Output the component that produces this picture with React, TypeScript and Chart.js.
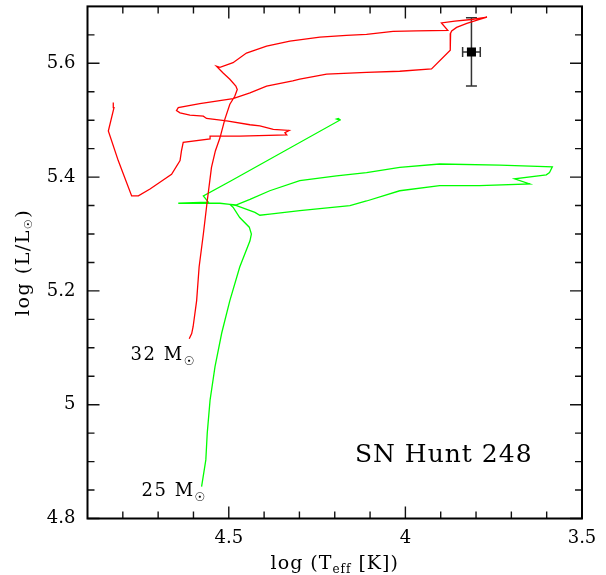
import React, { useEffect, useRef } from 'react';
import { Chart, registerables } from 'chart.js';

Chart.register(...registerables);

// 32 Msun evolutionary track (log Teff, log L/Lsun)
const track32Teff = [
  4.612, 4.605, 4.601, 4.591, 4.584, 4.572, 4.561, 4.549, 4.538, 4.525, 4.511, 4.497, 4.483, 4.476, 4.480,
  4.497, 4.516, 4.535, 4.525, 4.488, 4.450, 4.393, 4.327, 4.242, 4.167, 4.110, 4.035, 3.969, 3.880,
  3.898, 3.860, 3.813, 3.769, 3.790, 3.826, 3.855, 3.869, 3.872, 3.873, 3.926, 4.016, 4.110, 4.223,
  4.299, 4.319, 4.393, 4.440, 4.488, 4.582, 4.643, 4.648, 4.638, 4.610, 4.572, 4.563, 4.506, 4.440,
  4.412, 4.374, 4.329, 4.341, 4.336, 4.469, 4.553, 4.553, 4.629, 4.634, 4.638, 4.662, 4.695, 4.723,
  4.756, 4.775, 4.813, 4.841, 4.825, 4.827,
];
const track32Lum = [
  5.116, 5.125, 5.137, 5.183, 5.242, 5.300, 5.358, 5.417, 5.446, 5.469, 5.502, 5.528, 5.542, 5.554, 5.560,
  5.572, 5.583, 5.595, 5.593, 5.601, 5.618, 5.630, 5.639, 5.646, 5.649, 5.651, 5.656, 5.657, 5.658,
  5.671, 5.674, 5.677, 5.681, 5.677, 5.670, 5.663, 5.657, 5.653, 5.623, 5.590, 5.586, 5.584, 5.581,
  5.572, 5.569, 5.560, 5.548, 5.538, 5.529, 5.522, 5.517, 5.513, 5.509, 5.507, 5.503, 5.499, 5.492,
  5.490, 5.484, 5.482, 5.478, 5.474, 5.472, 5.472, 5.467, 5.461, 5.446, 5.429, 5.405, 5.391, 5.379,
  5.367, 5.367, 5.429, 5.481, 5.522, 5.531,
];

// 25 Msun evolutionary track
const track25Teff = [
  4.577, 4.565, 4.561, 4.553, 4.539, 4.520, 4.497, 4.469, 4.440, 4.436, 4.442, 4.469, 4.488, 4.497,
  4.480, 4.440, 4.384, 4.299, 4.195, 4.110, 4.016, 3.903, 3.733, 3.584, 3.592, 3.601, 3.691, 3.648,
  3.790, 3.903, 4.016, 4.110, 4.157, 4.299, 4.384, 4.412, 4.426, 4.478, 4.497, 4.525, 4.643, 4.558,
  4.572, 4.492, 4.186, 4.195, 4.190, 4.183,
];
const track25Lum = [
  4.856, 4.903, 4.950, 5.008, 5.067, 5.126, 5.183, 5.242, 5.288, 5.300, 5.312, 5.329, 5.347, 5.352,
  5.351, 5.361, 5.376, 5.394, 5.402, 5.408, 5.417, 5.423, 5.421, 5.418, 5.408, 5.404, 5.397, 5.388,
  5.385, 5.385, 5.376, 5.358, 5.350, 5.341, 5.335, 5.333, 5.338, 5.350, 5.352, 5.354, 5.354, 5.356,
  5.367, 5.394, 5.500, 5.502, 5.503, 5.500,
];

// Progenitor of SN Hunt 248
const starTeff = [3.813];
const starLum = [5.62];
const starTeffErr = [0.025];
const starLumErr = [0.06];

// Axes
const xTicks = [4.5, 4, 3.5];
const xMinorTicks = [4.8, 4.7, 4.6, 4.4, 4.3, 4.2, 4.1, 3.9, 3.8, 3.7, 3.6];
const yTicks = [4.8, 5, 5.2, 5.4, 5.6];
const yMinorTicks = [4.85, 4.9, 4.95, 5.05, 5.1, 5.15, 5.25, 5.3, 5.35, 5.45, 5.5, 5.55, 5.65];

// Track labels (left edge / baseline in data coords)
const trackLabelText = ['32', '25'];
const trackLabelTeff = [4.778, 4.747];
const trackLabelLum = [5.078, 4.839];

const objectName = 'SN Hunt 248';
const objectNameTeff = 4.143;
const objectNameLum = 4.9;

const FONT = '"DejaVu Serif", "Liberation Serif", serif';
const SYMFONT = '"DejaVu Sans", "DejaVu Serif", sans-serif';

type Part = { t: string; size: number; dy: number; sym?: boolean };

function drawParts(ctx: CanvasRenderingContext2D, parts: Part[], x: number, y: number, spacing: number, align: 'left' | 'center') {
  ctx.save();
  ctx.textBaseline = 'alphabetic';
  ctx.textAlign = 'left';
  (ctx as any).letterSpacing = spacing + 'px';
  const widths = parts.map((p) => {
    ctx.font = `${p.size}px ${p.sym ? SYMFONT : FONT}`;
    return ctx.measureText(p.t).width;
  });
  const total = widths.reduce((a, b) => a + b, 0);
  let cx = align === 'center' ? x - total / 2 : x;
  parts.forEach((p, i) => {
    ctx.font = `${p.size}px ${p.sym ? SYMFONT : FONT}`;
    ctx.fillText(p.t, cx, y + p.dy);
    cx += widths[i];
  });
  ctx.restore();
}

const hrPlugin = {
  id: 'hrDecor',
  beforeDatasetsDraw(chart: any) {
    const { ctx } = chart;
    const x = chart.scales.x;
    const y = chart.scales.y;
    ctx.save();
    ctx.strokeStyle = '#333';
    ctx.lineWidth = 1.5;
    for (let i = 0; i < starTeff.length; i++) {
      const px = x.getPixelForValue(starTeff[i]);
      const py = y.getPixelForValue(starLum[i]);
      const y1 = y.getPixelForValue(starLum[i] + starLumErr[i]);
      const y2 = y.getPixelForValue(starLum[i] - starLumErr[i]);
      const x1 = x.getPixelForValue(starTeff[i] + starTeffErr[i]);
      const x2 = x.getPixelForValue(starTeff[i] - starTeffErr[i]);
      ctx.beginPath();
      ctx.moveTo(px, y1);
      ctx.lineTo(px, y2);
      ctx.moveTo(px - 5.5, y1);
      ctx.lineTo(px + 5.5, y1);
      ctx.moveTo(px - 5.5, y2);
      ctx.lineTo(px + 5.5, y2);
      ctx.moveTo(x1, py);
      ctx.lineTo(x2, py);
      ctx.moveTo(x1, py - 5);
      ctx.lineTo(x1, py + 5);
      ctx.moveTo(x2, py - 5);
      ctx.lineTo(x2, py + 5);
      ctx.stroke();
    }
    ctx.restore();
  },
  afterDraw(chart: any) {
    const { ctx, chartArea } = chart;
    const { left, right, top, bottom } = chartArea;
    const x = chart.scales.x;
    const y = chart.scales.y;
    ctx.save();
    // ticks (inward, all four sides)
    ctx.strokeStyle = '#111';
    ctx.lineWidth = 1.4;
    ctx.beginPath();
    const xt = (v: number, len: number) => {
      const p = x.getPixelForValue(v);
      ctx.moveTo(p, bottom);
      ctx.lineTo(p, bottom - len);
      ctx.moveTo(p, top);
      ctx.lineTo(p, top + len);
    };
    const yt = (v: number, len: number) => {
      const p = y.getPixelForValue(v);
      ctx.moveTo(left, p);
      ctx.lineTo(left + len, p);
      ctx.moveTo(right, p);
      ctx.lineTo(right - len, p);
    };
    xTicks.forEach((v) => xt(v, 12));
    xMinorTicks.forEach((v) => xt(v, 7));
    yTicks.forEach((v) => yt(v, 12));
    yMinorTicks.forEach((v) => yt(v, 7));
    ctx.stroke();
    // frame
    ctx.strokeStyle = '#000';
    ctx.lineWidth = 2;
    ctx.strokeRect(left, top, right - left, bottom - top);
    ctx.fillStyle = '#000';

    // track labels
    for (let i = 0; i < trackLabelText.length; i++) {
      const px = x.getPixelForValue(trackLabelTeff[i]);
      const py = y.getPixelForValue(trackLabelLum[i]);
      drawParts(ctx, [
        { t: trackLabelText[i] + ' M', size: 18, dy: 0 },
        { t: '\u2609', size: 12, dy: 5, sym: true },
      ], px, py, 1.5, 'left');
    }

    // object name
    drawParts(ctx, [{ t: objectName, size: 25, dy: 0 }],
      x.getPixelForValue(objectNameTeff), y.getPixelForValue(objectNameLum), 1, 'left');

    // x-axis title
    drawParts(ctx, [
      { t: 'log (T', size: 19, dy: 0 },
      { t: 'eff', size: 12, dy: 4 },
      { t: ' [K])', size: 19, dy: 0 },
    ], (left + right) / 2, 569, 1, 'center');

    // y-axis title (rotated)
    ctx.translate(28.5, (top + bottom) / 2);
    ctx.rotate(-Math.PI / 2);
    drawParts(ctx, [
      { t: 'log (L/L', size: 19, dy: 0 },
      { t: '\u2609', size: 11, dy: 3, sym: true },
      { t: ')', size: 19, dy: 0 },
    ], 0, 0, 1.5, 'center');
    ctx.restore();
  },
};

export default function App() {
  const ref = useRef<HTMLCanvasElement | null>(null);
  useEffect(() => {
    if (!ref.current) return;
    const tickFont = { family: FONT, size: 18 };
    const chart = new Chart(ref.current, {
      type: 'scatter',
      data: {
        datasets: [
          {
            label: '32 Msun',
            data: track32Teff.map((t, i) => ({ x: t, y: track32Lum[i] })),
            showLine: true,
            borderColor: '#ff0000',
            backgroundColor: '#ff0000',
            borderWidth: 1.3,
            pointRadius: 0,
            tension: 0,
          },
          {
            label: '25 Msun',
            data: track25Teff.map((t, i) => ({ x: t, y: track25Lum[i] })),
            showLine: true,
            borderColor: '#00ff00',
            backgroundColor: '#00ff00',
            borderWidth: 1.3,
            pointRadius: 0,
            tension: 0,
          },
          {
            label: 'SN Hunt 248',
            data: starTeff.map((t, i) => ({ x: t, y: starLum[i] })),
            showLine: false,
            pointStyle: 'rect',
            pointRadius: 6.4,
            backgroundColor: '#000',
            borderColor: '#000',
            borderWidth: 0,
          },
        ],
      },
      options: {
        responsive: false,
        animation: false,
        layout: { padding: { left: 0, right: 24, top: 5, bottom: 0 } },
        plugins: {
          legend: { display: false },
          tooltip: { enabled: false },
          title: { display: false },
        },
        scales: {
          x: {
            type: 'linear',
            reverse: true,
            min: 3.5,
            max: 4.9,
            grid: { display: false, drawTicks: false },
            border: { display: false },
            afterBuildTicks: (s: any) => {
              s.ticks = xTicks.map((v) => ({ value: v }));
            },
            afterFit: (s: any) => {
              s.height = 56.5;
              s.paddingLeft = 0;
              s.paddingRight = 0;
            },
            ticks: {
              font: tickFont,
              color: '#000',
              padding: 9,
              maxRotation: 0,
              autoSkip: false,
              callback: (v: any) => String(v),
            },
          },
          y: {
            type: 'linear',
            min: 4.8,
            max: 5.7,
            grid: { display: false, drawTicks: false },
            border: { display: false },
            afterBuildTicks: (s: any) => {
              s.ticks = yTicks.map((v) => ({ value: v }));
            },
            afterFit: (s: any) => {
              s.width = 87.5;
              s.paddingTop = 0;
              s.paddingBottom = 0;
            },
            ticks: {
              font: tickFont,
              color: '#000',
              padding: 12,
              autoSkip: false,
              callback: (v: any) => String(v),
            },
          },
        },
      },
      plugins: [hrPlugin],
    } as any);
    return () => chart.destroy();
  }, []);
  return (
    <div style={{ position: 'absolute', left: 0, top: 0, width: 606, height: 575, background: '#fff' }}>
      <canvas ref={ref} width={606} height={575} style={{ display: 'block' }} />
    </div>
  );
}
